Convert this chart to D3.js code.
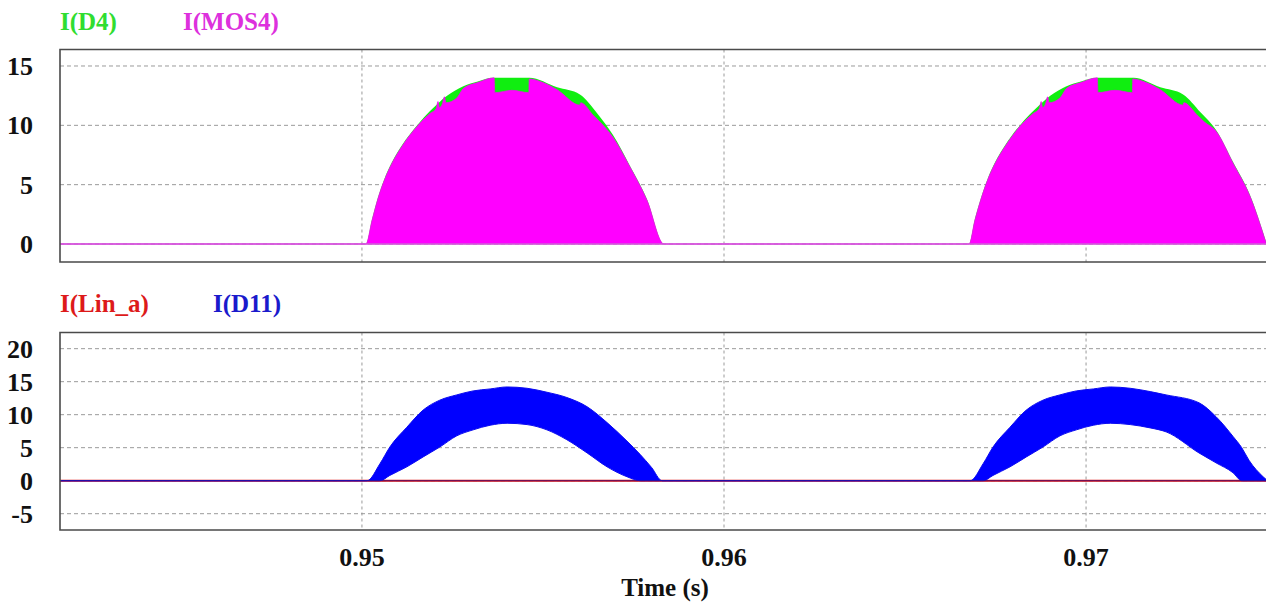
<!DOCTYPE html>
<html>
<head>
<meta charset="utf-8">
<script src="https://cdn.jsdelivr.net/npm/d3@7"></script>
<style>
  html, body { margin: 0; padding: 0; background: #fff; }
  svg { display: block; }
  text { font-family: "Liberation Serif", "Times New Roman", serif; font-weight: bold; }
</style>
</head>
<body>
<svg id="chart" width="1266" height="603"></svg>
<script>
// ---------------- DATA ----------------
const xTicks = [0.95, 0.96, 0.97];
const xTickLabels = ["0.95", "0.96", "0.97"];
const yTicksTop = [0, 5, 10, 15];
const yTicksBottom = [-5, 0, 5, 10, 15, 20];
const xLabel = "Time (s)";
const topSeriesNames = ["I(D4)", "I(MOS4)"];
const bottomSeriesNames = ["I(Lin_a)", "I(D11)"];

// I(D4): upper envelope of the switching current (A)
const d4Time = [0.94166, 0.95011, 0.95028, 0.95044, 0.95061, 0.95083, 0.95110, 0.95155, 0.95188, 0.95235,
  0.95280, 0.95320, 0.95362, 0.95462, 0.95539, 0.95602, 0.95650, 0.95693, 0.95740, 0.95787, 0.95834,
  0.96677, 0.96693, 0.96710, 0.96727, 0.96749, 0.96776, 0.96820, 0.96854, 0.96901,
  0.96946, 0.96986, 0.97030, 0.97131, 0.97205, 0.97268, 0.97316, 0.97359, 0.97406, 0.97453, 0.97497];
const d4Val = [0, 0, 2.1, 3.9, 5.4, 6.9, 8.3, 10.1, 11.2, 12.5,
  13.3, 13.7, 14.0, 14.0, 13.2, 12.6, 11.0, 9.2, 6.6, 3.8, 0,
  0, 2.1, 3.9, 5.4, 6.9, 8.3, 10.1, 11.2, 12.5,
  13.3, 13.7, 14.0, 14.0, 13.2, 12.6, 11.1, 9.6, 6.9, 4.1, 0.2];

// I(MOS4): upper envelope of the switching current (A)
const mosTime = [0.94166, 0.95011, 0.95028, 0.95044, 0.95061, 0.95083, 0.95110, 0.95155, 0.95188, 0.95205, 0.95210,
  0.95214, 0.95222, 0.95228, 0.95232, 0.95262, 0.95280, 0.95320, 0.95365, 0.95367, 0.95414, 0.95461, 0.95462,
  0.95500, 0.95539, 0.95602, 0.95604, 0.95640, 0.95660, 0.95693, 0.95740, 0.95787, 0.95834,
  0.96677, 0.96693, 0.96710, 0.96727, 0.96749, 0.96776, 0.96820, 0.96854, 0.96871, 0.96876,
  0.96880, 0.96888, 0.96894, 0.96898, 0.96928, 0.96946, 0.96986, 0.97031, 0.97033, 0.97080, 0.97128, 0.97129,
  0.97166, 0.97205, 0.97268, 0.97270, 0.97306, 0.97326, 0.97359, 0.97406, 0.97453, 0.97497];
const mosVal = [0, 0, 2.0, 3.8, 5.3, 6.8, 8.2, 10.0, 11.0, 11.4, 12.0,
  11.5, 11.8, 12.4, 11.9, 12.3, 13.1, 13.6, 14.0, 12.75, 12.95, 12.75, 13.9,
  13.6, 13.0, 11.7, 11.9, 10.8, 10.2, 9.0, 6.5, 3.7, 0,
  0, 2.0, 3.8, 5.3, 6.8, 8.2, 10.0, 11.0, 11.4, 12.0,
  11.5, 11.8, 12.4, 11.9, 12.3, 13.1, 13.6, 14.0, 12.75, 12.95, 12.75, 13.9,
  13.6, 13.0, 11.7, 11.9, 10.9, 10.3, 9.5, 6.8, 4.0, 0.1];

// I(D11): band between lower and upper envelopes (A)
const d11Time = [0.94166, 0.95014, 0.95050, 0.95077, 0.95124, 0.95169, 0.95215, 0.95262, 0.95307, 0.95354, 0.95401,
  0.95456, 0.95511, 0.95566, 0.95622, 0.95677, 0.95732, 0.95768, 0.95800, 0.95829,
  0.96680, 0.96716, 0.96743, 0.96790, 0.96835, 0.96881, 0.96928, 0.96973, 0.97020, 0.97067,
  0.97122, 0.97177, 0.97221, 0.97312, 0.97359, 0.97406, 0.97430, 0.97450, 0.97489, 0.97497];
const d11Upper = [0, 0, 2.6, 5.1, 8.1, 10.7, 12.2, 13.0, 13.6, 13.9, 14.2,
  14.0, 13.4, 12.6, 11.2, 8.8, 6.0, 4.0, 2.0, 0,
  0, 2.6, 5.1, 8.1, 10.7, 12.2, 13.0, 13.6, 13.9, 14.2,
  14.0, 13.5, 13.0, 11.8, 9.7, 6.7, 5.0, 3.1, 0.6, 0.2];
const d11Lower = [0, 0, 0, 0.8, 2.1, 3.6, 5.1, 6.8, 7.7, 8.4, 8.7,
  8.5, 7.7, 6.2, 4.2, 2.1, 0.6, 0, 0, 0,
  0, 0, 0.8, 2.1, 3.6, 5.1, 6.8, 7.7, 8.4, 8.7,
  8.5, 8.0, 7.4, 4.2, 2.7, 1.2, 0, 0, 0, 0];

// I(Lin_a)
const linTime = [0.94166, 0.97497];
const linVal = [0, 0];

// ---------------- LAYOUT ----------------
const svg = d3.select("#chart");
const left = 60, right = 1266;
const topPanel = { top: 49.5, bottom: 262, dom: [-1.516, 16.39] };
const botPanel = { top: 332.5, bottom: 530, dom: [-7.47, 22.45] };

const x = d3.scaleLinear().domain([0.94166, 0.97497]).range([left, right]);
const yT = d3.scaleLinear().domain(topPanel.dom).range([topPanel.bottom, topPanel.top]);
const yB = d3.scaleLinear().domain(botPanel.dom).range([botPanel.bottom, botPanel.top]);

const font = "26px";
const gridColor = "#9a9a9a";

function panel(y, p, yTicks) {
  const g = svg.append("g");
  g.selectAll("line.hg").data(yTicks).join("line")
    .attr("x1", left).attr("x2", right)
    .attr("y1", d => y(d)).attr("y2", d => y(d))
    .attr("stroke", gridColor).attr("stroke-width", 1)
    .attr("stroke-dasharray", "4,3");
  g.selectAll("line.vg").data(xTicks).join("line")
    .attr("x1", d => x(d)).attr("x2", d => x(d))
    .attr("y1", p.top).attr("y2", p.bottom)
    .attr("stroke", gridColor).attr("stroke-width", 1)
    .attr("stroke-dasharray", "3,3");
  g.selectAll("text.yt").data(yTicks).join("text")
    .attr("x", 33).attr("y", d => y(d)).attr("dy", "0.35em")
    .attr("text-anchor", "end").attr("font-size", font).attr("fill", "#111")
    .text(d => d);
  return g;
}

const gTop = panel(yT, topPanel, yTicksTop);
const gBot = panel(yB, botPanel, yTicksBottom);

// ---------- top panel series ----------
const d4Data = d4Time.map((t, i) => [t, d4Val[i]]);
const mosData = mosTime.map((t, i) => [t, mosVal[i]]);
const areaTop = d3.area().curve(d3.curveMonotoneX)
  .x(d => x(d[0])).y0(yT(0)).y1(d => yT(d[1]));
gTop.append("path").datum(d4Data).attr("d", areaTop).attr("fill", "#10ee10");
gTop.append("path").datum(mosData).attr("d", areaTop).attr("fill", "#ff00ff")
  .attr("stroke", "#ee10ee").attr("stroke-width", 0.8);
gTop.append("line").attr("x1", left).attr("x2", right)
  .attr("y1", yT(0)).attr("y2", yT(0))
  .attr("stroke", "#d060d8").attr("stroke-width", 1.6);

// ---------- bottom panel series ----------
const linData = linTime.map((t, i) => [t, linVal[i]]);
const d11Data = d11Time.map((t, i) => [t, d11Lower[i], d11Upper[i]]);
gBot.append("path").datum(linData)
  .attr("d", d3.line().x(d => x(d[0])).y(d => yB(d[1])))
  .attr("stroke", "#e01010").attr("stroke-width", 2).attr("fill", "none");
gBot.append("path").datum(d11Data)
  .attr("d", d3.area().curve(d3.curveMonotoneX)
    .x(d => x(d[0])).y0(d => yB(d[1])).y1(d => yB(d[2])))
  .attr("fill", "#0000ff").attr("stroke", "#0a0af0").attr("stroke-width", 1);
gBot.append("line").attr("x1", left).attr("x2", right)
  .attr("y1", yB(0)).attr("y2", yB(0))
  .attr("stroke", "#301080").attr("stroke-width", 1).attr("opacity", 0.75);

// ---------- frames ----------
function frame(p) {
  svg.append("path")
    .attr("d", `M${right},${p.top}H${left}V${p.bottom}H${right}`)
    .attr("fill", "none").attr("stroke", "#4a4a4a").attr("stroke-width", 1.6);
}
frame(topPanel);
frame(botPanel);

// ---------- x axis labels ----------
svg.selectAll("text.xt").data(xTicks).join("text")
  .attr("x", d => x(d)).attr("y", 566)
  .attr("text-anchor", "middle").attr("font-size", font).attr("fill", "#111")
  .text((d, i) => xTickLabels[i]);
svg.append("text").attr("x", 665).attr("y", 596)
  .attr("text-anchor", "middle").attr("font-size", "25px").attr("fill", "#111")
  .text(xLabel);

// ---------- legends ----------
const topLegendColors = ["#30dd30", "#dd30dd"];
const topLegendX = [60, 183];
svg.selectAll("text.lt").data(topSeriesNames).join("text")
  .attr("x", (d, i) => topLegendX[i]).attr("y", 30)
  .attr("font-size", "25px").attr("fill", (d, i) => topLegendColors[i])
  .text(d => d);
const botLegendColors = ["#dd1a1a", "#1a1acc"];
const botLegendX = [60, 213];
svg.selectAll("text.lb").data(bottomSeriesNames).join("text")
  .attr("x", (d, i) => botLegendX[i]).attr("y", 312)
  .attr("font-size", "25px").attr("fill", (d, i) => botLegendColors[i])
  .text(d => d);
</script>
</body>
</html>
